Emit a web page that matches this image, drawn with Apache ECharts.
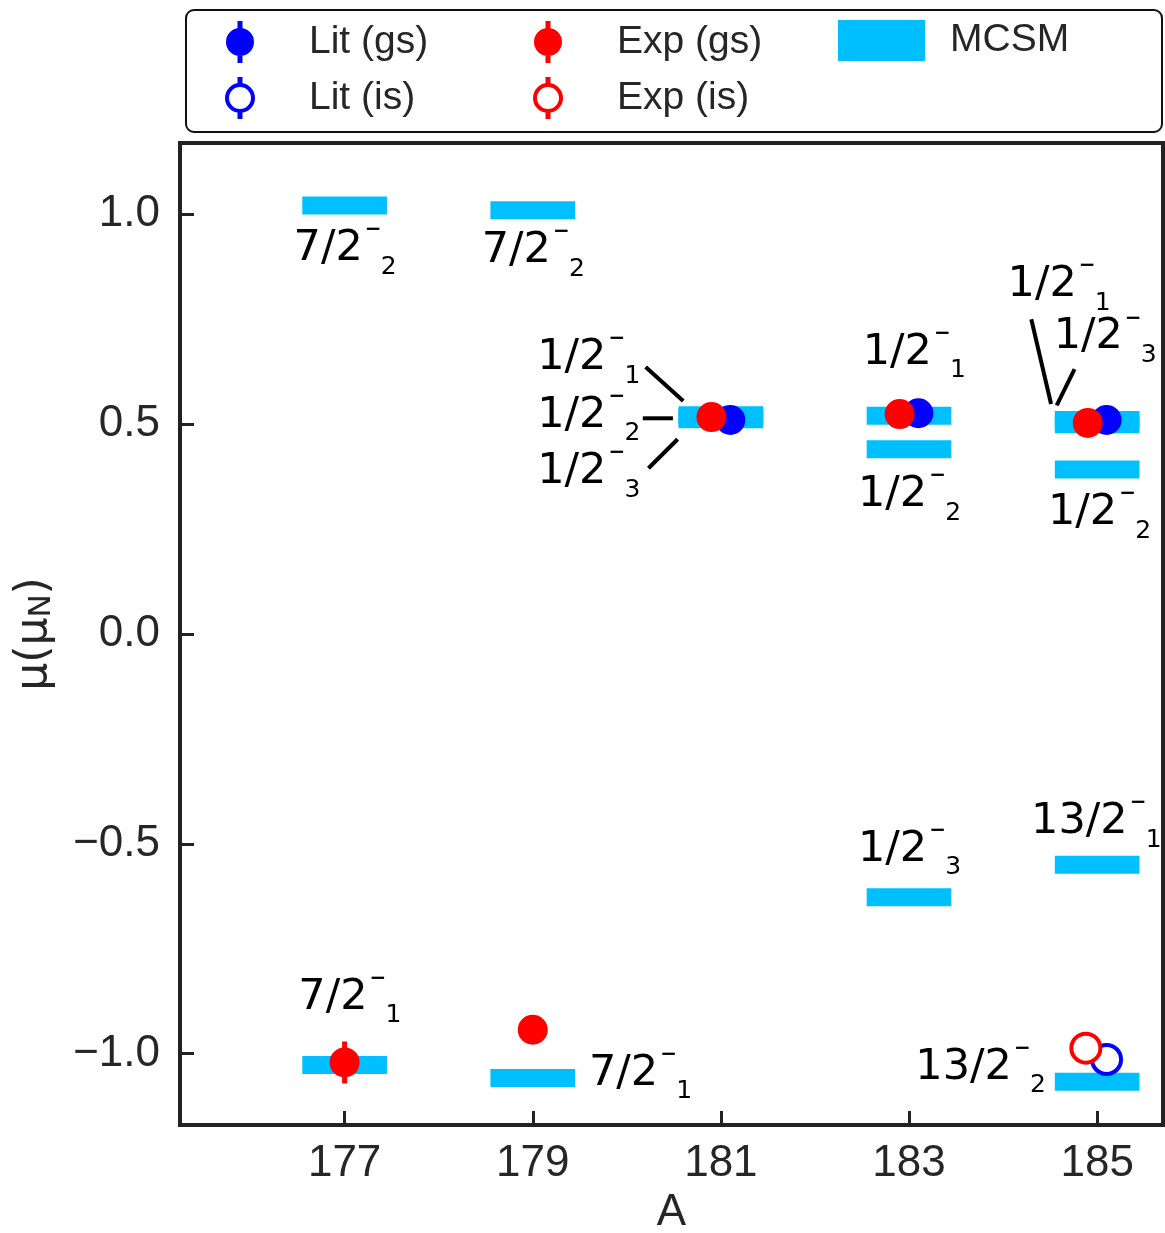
<!DOCTYPE html>
<html>
<head>
<meta charset="utf-8">
<script src="https://cdn.jsdelivr.net/npm/echarts@6/dist/echarts.min.js"></script>
<style>
  html, body { margin: 0; padding: 0; background: #fff; }
  #chart { width: 1165px; height: 1233px; }
</style>
</head>
<body>
<div id="chart"></div>
<script>
// tick values
const xTicks = [177, 179, 181, 183, 185];
const yTicks = [-1.0, -0.5, 0.0, 0.5, 1.0];

// MCSM levels (bars)
const mcsmA  = [177, 177, 179, 179, 181, 181, 181, 183, 183, 183, 185, 185, 185, 185, 185];
const mcsmMu = [1.021, -1.027, 1.010, -1.058, 0.521, 0.517, 0.512, 0.520, 0.440, -0.627, 0.510, 0.500, 0.392, -0.550, -1.067];

// literature / experiment points
const litGsA  = [181.1, 183.1, 185.1];
const litGsMu = [0.510, 0.526, 0.510];
const expGsA  = [177.0, 179.0, 180.9, 182.9, 184.9];
const expGsMu = [-1.021, -0.943, 0.517, 0.524, 0.503];
const expGsErr = [0.05, 0.02, 0.01, 0.01, 0.01];
const litIsA  = [185.1];
const litIsMu = [-1.014];
const expIsA  = [184.88];
const expIsMu = [-0.987];

// state labels (left edge / middle of the main text)
const labelA  = [176.50, 178.50, 179.09, 179.09, 179.09, 182.55, 182.50, 184.09, 184.58, 184.52, 182.50, 184.34, 183.11, 176.55, 179.64];
const labelMu = [0.917, 0.912, 0.657, 0.521, 0.386, 0.671, 0.331, 0.831, 0.707, 0.288, -0.514, -0.448, -1.033, -0.867, -1.048];
const labelJ  = ['7/2', '7/2', '1/2', '1/2', '1/2', '1/2', '1/2', '1/2', '1/2', '1/2', '1/2', '13/2', '13/2', '7/2', '7/2'];
const labelN  = ['2', '2', '1', '2', '3', '1', '2', '1', '3', '2', '3', '1', '2', '1', '1'];

// leader lines from labels to levels
const leadA1  = [180.20, 180.17, 180.23, 184.30, 184.76];
const leadMu1 = [0.636, 0.514, 0.395, 0.750, 0.631];
const leadA2  = [180.60, 180.49, 180.54, 184.51, 184.57];
const leadMu2 = [0.555, 0.514, 0.464, 0.548, 0.545];

const BLUE = '#0000ff';
const RED = '#ff0000';
const CYAN = '#00bfff';
const INK = '#262626';
const MATH_FONT = 'DejaVu Sans';
const SANS = 'Liberation Sans, Arial, sans-serif';
const LABEL_SIZE = 43;

const measureCtx = document.createElement('canvas').getContext('2d');
function textWidth(str, size) {
  measureCtx.font = size + 'px "' + MATH_FONT + '"';
  return measureCtx.measureText(str).width;
}

// legend icons: marker with error bar
const ICON_FILLED = 'path://M12.5,0 L17.5,0 L17.5,42 L12.5,42 Z M1,21 A14,14 0 1,1 29,21 A14,14 0 1,1 1,21 Z';
const ICON_OPEN = 'path://M12.5,0 L17.5,0 L17.5,7 L12.5,7 Z M12.5,35 L17.5,35 L17.5,42 L12.5,42 Z ' +
  'M0,21 A15,15 0 1,1 30,21 A15,15 0 1,1 0,21 Z M4,21 A11,11 0 1,0 26,21 A11,11 0 1,0 4,21 Z';

const myChart = echarts.init(document.getElementById('chart'));

const legendText = { fontSize: 39, color: INK, fontFamily: SANS };

const option = {
  animation: false,
  backgroundColor: '#fff',
  graphic: [{
    type: 'rect',
    z: 0,
    shape: { x: 186, y: 10, width: 976, height: 122, r: 8 },
    style: { fill: 'none', stroke: '#111', lineWidth: 2 }
  }],
  legend: [
    {
      orient: 'vertical', left: 225, top: 21, padding: 0, itemWidth: 30, itemHeight: 42, itemGap: 14,
      selectedMode: false,
      textStyle: Object.assign({ padding: [0, 0, 0, 49] }, legendText),
      data: [
        { name: 'Lit (gs)', icon: ICON_FILLED, itemStyle: { color: BLUE, borderWidth: 0 } },
        { name: 'Lit (is)', icon: ICON_OPEN, itemStyle: { color: BLUE, borderWidth: 0 } }
      ]
    },
    {
      orient: 'vertical', left: 533, top: 21, padding: 0, itemWidth: 30, itemHeight: 42, itemGap: 14,
      selectedMode: false,
      textStyle: Object.assign({ padding: [0, 0, 0, 49] }, legendText),
      data: [
        { name: 'Exp (gs)', icon: ICON_FILLED, itemStyle: { color: RED, borderWidth: 0 } },
        { name: 'Exp (is)', icon: ICON_OPEN, itemStyle: { color: RED, borderWidth: 0 } }
      ]
    },
    {
      orient: 'vertical', left: 838, top: 20, padding: 0, itemWidth: 87, itemHeight: 41,
      selectedMode: false,
      textStyle: Object.assign({ padding: [0, 0, 0, 20] }, legendText),
      data: [{ name: 'MCSM', icon: 'rect', itemStyle: { color: CYAN, borderWidth: 0 } }]
    }
  ],
  grid: {
    left: 180, right: 2, top: 143, bottom: 108,
    outerBoundsMode: 'none', containLabel: false,
    show: true, borderColor: '#222', borderWidth: 4, backgroundColor: 'transparent'
  },
  xAxis: {
    type: 'value', min: 175.25, max: 185.7,
    name: 'A', nameLocation: 'middle', nameGap: 66,
    nameTextStyle: { fontSize: 44, color: INK, fontFamily: SANS },
    axisLine: { show: true, onZero: false, lineStyle: { color: '#222', width: 4 } },
    axisTick: { show: true, inside: true, length: 14, customValues: xTicks, lineStyle: { color: '#222', width: 3 } },
    axisLabel: { customValues: xTicks, fontSize: 44, color: INK, fontFamily: SANS, margin: 17 },
    splitLine: { show: false }
  },
  yAxis: {
    type: 'value', min: -1.17, max: 1.17,
    name: '{a|μ(μ}{s|N}{a|)}', nameLocation: 'middle', nameGap: 123,
    nameTextStyle: {
      rich: {
        a: { fontSize: 44, color: INK, fontFamily: MATH_FONT },
        s: { fontSize: 31, color: INK, fontFamily: MATH_FONT, padding: [14, 0, 0, 0] }
      }
    },
    axisLine: { show: true, onZero: false, lineStyle: { color: '#222', width: 4 } },
    axisTick: { show: true, inside: true, length: 14, customValues: yTicks, lineStyle: { color: '#222', width: 3 } },
    axisLabel: {
      customValues: yTicks, fontSize: 44, color: INK, fontFamily: SANS, margin: 20,
      formatter: v => (v < 0 ? '\u2212' : '') + Math.abs(v).toFixed(1)
    },
    splitLine: { show: false }
  },
  series: [
    {
      name: 'MCSM', type: 'custom',
      data: mcsmA.map((a, i) => [a, mcsmMu[i]]),
      renderItem: (params, api) => {
        const c = api.coord([api.value(0), api.value(1)]);
        const w = api.size([0.9, 0])[0];
        const h = 18;
        return { type: 'rect', shape: { x: c[0] - w / 2, y: c[1] - h / 2, width: w, height: h }, style: { fill: CYAN } };
      }
    },
    {
      name: 'leaders', type: 'custom', silent: true,
      encode: { x: [0, 2], y: [1, 3] },
      data: leadA1.map((a, i) => [a, leadMu1[i], leadA2[i], leadMu2[i]]),
      renderItem: (params, api) => {
        const p1 = api.coord([api.value(0), api.value(1)]);
        const p2 = api.coord([api.value(2), api.value(3)]);
        return {
          type: 'line',
          shape: { x1: p1[0], y1: p1[1], x2: p2[0], y2: p2[1] },
          style: { stroke: '#000', lineWidth: 4 }
        };
      }
    },
    {
      name: 'labels', type: 'custom', silent: true,
      data: labelA.map((a, i) => [a, labelMu[i]]),
      renderItem: (params, api) => {
        const i = params.dataIndex;
        const p = api.coord([api.value(0), api.value(1)]);
        const base = labelJ[i];
        const w = textWidth(base, LABEL_SIZE);
        const x0 = p[0] - 4;
        return {
          type: 'group',
          children: [
            { type: 'text', x: x0, y: p[1],
              style: { text: base, fontSize: LABEL_SIZE, fontFamily: MATH_FONT, fill: '#000', align: 'left', verticalAlign: 'middle' } },
            { type: 'text', x: x0 + w + 2, y: p[1] - 19,
              style: { text: '\u2212', fontSize: 20, fontWeight: 'bold', fontFamily: MATH_FONT, fill: '#000', align: 'left', verticalAlign: 'middle' } },
            { type: 'text', x: x0 + w + 18, y: p[1] + 18,
              style: { text: labelN[i], fontSize: 25, fontFamily: MATH_FONT, fill: '#000', align: 'left', verticalAlign: 'middle' } }
          ]
        };
      }
    },
    {
      name: 'Lit (gs)', type: 'scatter', symbol: 'circle', symbolSize: 30,
      itemStyle: { color: BLUE, opacity: 1 },
      data: litGsA.map((a, i) => [a, litGsMu[i]])
    },
    {
      name: 'Lit (is)', type: 'scatter', symbol: 'circle', symbolSize: 29,
      itemStyle: { color: '#fff', borderColor: BLUE, borderWidth: 4, opacity: 1 },
      data: litIsA.map((a, i) => [a, litIsMu[i]])
    },
    {
      name: 'Exp err', type: 'custom', silent: true,
      encode: { x: 0, y: [1, 2] },
      data: expGsA.map((a, i) => [a, expGsMu[i] - expGsErr[i], expGsMu[i] + expGsErr[i]]),
      renderItem: (params, api) => {
        const lo = api.coord([api.value(0), api.value(1)]);
        const hi = api.coord([api.value(0), api.value(2)]);
        return {
          type: 'line',
          shape: { x1: lo[0], y1: lo[1], x2: hi[0], y2: hi[1] },
          style: { stroke: RED, lineWidth: 5 }
        };
      }
    },
    {
      name: 'Exp (gs)', type: 'scatter', symbol: 'circle', symbolSize: 30,
      itemStyle: { color: RED, opacity: 1 },
      data: expGsA.map((a, i) => [a, expGsMu[i]])
    },
    {
      name: 'Exp (is)', type: 'scatter', symbol: 'circle', symbolSize: 29,
      itemStyle: { color: '#fff', borderColor: RED, borderWidth: 4, opacity: 1 },
      data: expIsA.map((a, i) => [a, expIsMu[i]])
    }
  ]
};

myChart.setOption(option, true);
</script>
</body>
</html>
